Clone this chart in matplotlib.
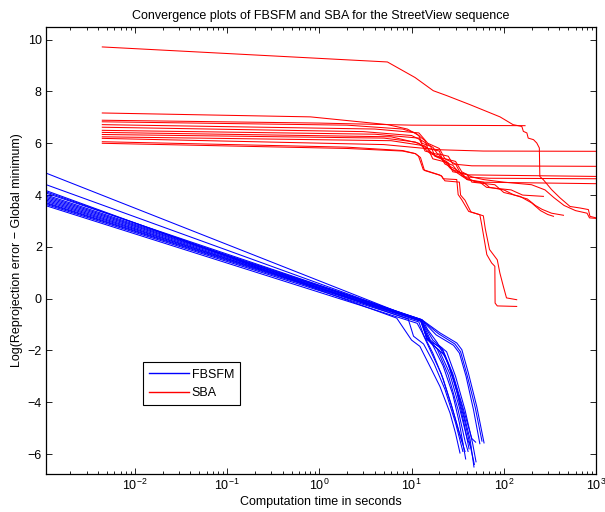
import matplotlib
matplotlib.use('Agg')
import matplotlib.pyplot as plt
from matplotlib.ticker import FixedLocator, LogLocator, NullFormatter

plt.rcParams['font.family'] = ['Liberation Sans', 'DejaVu Sans']
plt.rcParams['mathtext.fontset'] = 'custom'
plt.rcParams['mathtext.rm'] = 'Liberation Sans'
plt.rcParams['font.size'] = 9

title = 'Convergence plots of FBSFM and SBA for the StreetView sequence'
xlabel = 'Computation time in seconds'
ylabel = 'Log(Reprojection error \u2212 Global minimum)'
xticks = [1e-2, 1e-1, 1e0, 1e1, 1e2, 1e3]
yticks = [-6, -4, -2, 0, 2, 4, 6, 8, 10]

# FBSFM runs: (time, log error)
fbsfm_runs = [
    [(1e-3, 4.90), (13.5, -0.90), (15, -1.2), (19, -1.7), (25, -2.5), (31, -3.6), (37, -4.8), (42, -5.8)],
    [(1e-3, 4.45), (12.9, -0.85), (14, -1.3), (17, -1.8), (22, -2.6), (28, -3.7), (33, -4.8), (38.6, -6.19)],
    [(1e-3, 4.22), (6.9, -0.75), (10, -1.6), (12.3, -1.84), (15.8, -2.61), (20.3, -3.39), (26.1, -4.41), (30, -5.2), (33.5, -5.96)],
    [(1e-3, 4.17), (9.2, -0.79), (10.5, -1.45), (13.5, -1.75), (17.5, -2.5), (23, -3.5), (30, -4.8), (36, -5.9)],
    [(1e-3, 4.12), (12.9, -0.81), (14.6, -1.58), (21.2, -1.9), (27.3, -2.87), (35.1, -4.16), (43.1, -5.44), (47.5, -6.5)],
    [(1e-3, 4.05), (12.9, -0.81), (20.3, -1.32), (30.9, -1.71), (35.1, -1.97), (41.3, -2.87), (50.9, -4.16), (61.1, -5.57)],
    [(1e-3, 4.00), (12.9, -0.82), (19.5, -1.35), (29.5, -1.75), (34, -2.05), (40, -2.95), (49, -4.2), (58, -5.5)],
    [(1e-3, 3.95), (12.9, -0.82), (18.5, -1.4), (28.5, -1.8), (33, -2.1), (39, -3.0), (47, -4.3), (55, -5.6)],
    [(1e-3, 3.90), (12.5, -0.83), (15, -1.6), (20, -2.0), (26, -2.9), (33, -4.2), (40, -5.4), (44, -5.73)],
    [(1e-3, 3.85), (12.5, -0.85), (14.5, -1.5), (19, -1.95), (25, -2.95), (32, -4.3), (38, -5.5), (41, -5.9)],
    [(1e-3, 3.80), (12.9, -0.85), (16, -1.6), (22, -2.0), (28, -2.9), (36, -4.2), (45, -5.4), (49.5, -5.54)],
    [(1e-3, 3.75), (12.9, -0.86), (17, -1.6), (24, -2.05), (30, -3.0), (38, -4.3), (46, -5.6), (50, -6.3)],
    [(1e-3, 3.72), (12.7, -0.88), (16, -1.7), (23, -2.2), (29, -3.2), (37, -4.6), (44, -5.8), (48, -6.4)],
    [(1e-3, 3.68), (12.0, -0.90), (13.5, -1.4), (17, -2.1), (22, -3.1), (28, -4.3), (35, -5.5), (38, -5.9)],
    [(1e-3, 3.63), (11.5, -0.95), (13, -1.3), (16, -2.0), (21, -2.9), (27, -4.1), (33, -5.2), (36, -5.6)],
]

# SBA runs
sba_runs = [
    [(0.00443, 9.72), (5.47, 9.14), (10.9, 8.54), (17.2, 8.03), (24.1, 7.84), (43.1, 7.49), (91, 7.02), (126, 6.72),
     (157, 6.65), (163, 6.46), (178, 6.40), (184, 6.20), (210, 6.14), (228, 6.01), (243, 5.82), (246, 4.72),
     (269, 4.59), (330, 4.21), (408, 3.89), (523, 3.56), (674, 3.50), (827, 3.44), (860, 3.18), (1000, 3.12)],
    [(0.00443, 7.17), (0.8, 7.02), (5.5, 6.72), (9, 6.55), (12, 6.3), (13, 6.0), (17, 5.85), (19, 5.6), (25, 5.5),
     (28, 5.2), (45, 5.13), (1000, 5.11)],
    [(0.00443, 6.89), (1, 6.78), (10, 6.7), (170, 6.68)],
    [(0.00443, 6.83), (2, 6.7), (8, 6.55), (11, 6.4), (14, 6.1), (15, 5.8), (20, 5.7), (22, 5.3), (28, 5.15),
     (32, 4.9), (40, 4.78), (1000, 4.72)],
    [(0.00443, 6.62), (3, 6.45), (10, 6.3), (13, 6.1), (16, 5.9), (18, 5.5), (24, 5.3), (27, 5.0), (35, 4.85),
     (40, 4.6), (60, 4.5), (70, 4.3), (100, 4.2), (130, 4.0), (180, 3.85), (220, 3.6), (260, 3.45), (330, 3.3),
     (444, 3.22)],
    [(0.00443, 6.50), (4, 6.35), (12, 6.2), (14, 5.7), (20, 5.55), (23, 5.2), (30, 5.0), (38, 4.7), (70, 4.65),
     (1000, 4.63)],
    [(0.00443, 6.34), (5, 6.2), (11, 6.05), (15, 5.8), (17, 5.4), (25, 5.25), (28, 4.9), (40, 4.8), (45, 4.5),
     (80, 4.4), (100, 4.1), (150, 3.95), (200, 3.7), (250, 3.4), (300, 3.25), (346, 3.18)],
    [(0.00443, 6.19), (5, 5.95), (20, 5.75), (60, 5.70), (1000, 5.69)],
    [(0.00443, 6.00), (2, 5.8), (8, 5.7), (11, 5.6), (11.9, 5.5), (13.4, 4.98), (20, 4.78), (21.3, 4.72), (22, 4.63),
     (30.9, 4.6), (32, 4.02), (35, 3.82), (41.6, 3.37), (55, 3.24), (57.6, 2.86), (65.5, 1.70), (73.8, 1.38),
     (80, 1.25), (80.5, -0.17), (85, -0.28), (138, -0.30)],
    [(0.00443, 6.06), (2, 5.85), (8, 5.72), (11, 5.6), (12.5, 5.45), (13.8, 4.95), (21, 4.75), (23, 4.55),
     (33, 4.5), (34, 4.0), (38, 3.8), (44, 3.35), (60, 3.2), (63, 2.7), (70, 1.9), (85, 1.5), (90.7, 0.99),
     (99, 0.47), (107, 0.03), (138, -0.04)],
    [(0.00443, 6.42), (6, 6.25), (12, 6.0), (16, 5.6), (21, 5.45), (26, 5.05), (33, 4.8), (40, 4.6), (55, 4.5),
     (65, 4.3), (120, 4.2), (160, 4.0), (269, 3.95)],
    [(0.00443, 6.72), (4, 6.55), (12, 6.4), (15, 6.0), (20, 5.8), (23, 5.4), (30, 5.2), (35, 4.75), (50, 4.5),
     (1000, 4.44)],
    [(0.00443, 6.25), (6, 6.1), (14, 5.9), (18, 5.5), (30, 5.3), (35, 4.9), (45, 4.7), (60, 4.6), (100, 4.5),
     (200, 4.4), (280, 4.2), (350, 3.9), (450, 3.6), (600, 3.4), (800, 3.3), (850, 3.12), (1000, 3.1)],
]

fig = plt.figure(figsize=(6.05, 5.12), dpi=100)
ax = fig.add_axes([46 / 605, 38 / 512, 550 / 605, 447 / 512])

for i, run in enumerate(fbsfm_runs):
    t, e = zip(*run)
    ax.plot(t, e, color='#0000ff', lw=0.75, label='FBSFM' if i == 0 else None)
for i, run in enumerate(sba_runs):
    t, e = zip(*run)
    ax.plot(t, e, color='#ff0000', lw=0.75, label='SBA' if i == 0 else None)

ax.set_xscale('log')
ax.set_xlim(1.086e-3, 1e3)
ax.set_ylim(-6.77, 10.49)
ax.xaxis.set_major_locator(FixedLocator(xticks))
ax.set_yticks(yticks)
ax.xaxis.set_minor_locator(LogLocator(base=10, subs=range(2, 10), numticks=20))
ax.xaxis.set_minor_formatter(NullFormatter())
ax.tick_params(which='both', direction='in', top=True, right=True, labelsize=9, pad=3)
ax.tick_params(which='major', length=4, width=0.6)
ax.tick_params(which='minor', length=2.2, width=0.6)
for s in ax.spines.values():
    s.set_linewidth(0.9)

ax.set_title(title, fontsize=9, pad=6)
ax.set_xlabel(xlabel, fontsize=9, labelpad=2)
ax.set_ylabel(ylabel, fontsize=9, labelpad=3)

leg = ax.legend(loc='lower left', bbox_to_anchor=(0.176, 0.154), borderaxespad=0,
                fancybox=False, edgecolor='black', framealpha=1, fontsize=9,
                handlelength=3.2, handletextpad=0.2, borderpad=0.5, labelspacing=0.5)
leg.get_frame().set_linewidth(0.8)
for h in leg.get_lines():
    h.set_linewidth(1.0)

fig.savefig('out.png', dpi=100)
